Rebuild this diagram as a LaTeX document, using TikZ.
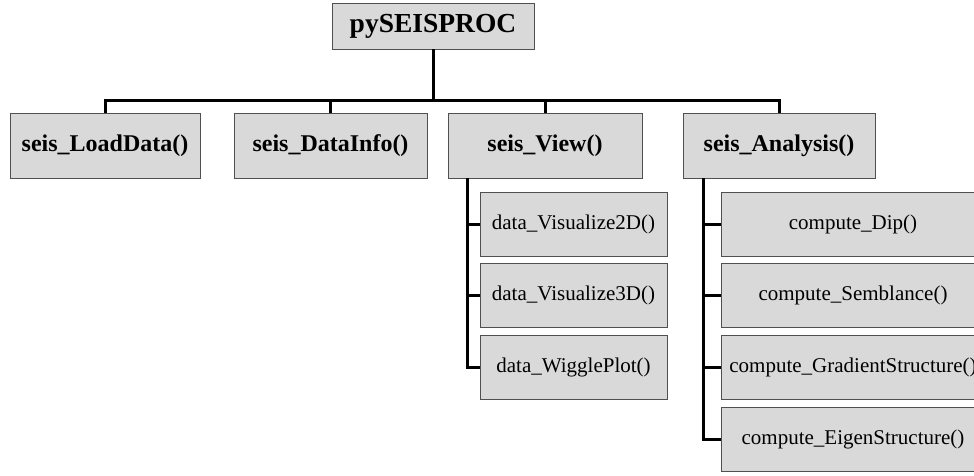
\documentclass[tikz,border=0pt]{standalone}
\usepackage{fontspec}
\setmainfont{Liberation Serif}
\definecolor{boxfill}{HTML}{D9D9D9}
\definecolor{boxline}{HTML}{505050}
\begin{document}
\begin{tikzpicture}[x=1pt,y=-1pt,
  box/.style={draw=boxline,line width=0.9pt,fill=boxfill,inner sep=0pt,anchor=center},
  topbox/.style={box,minimum height=65pt,font=\bfseries\fontsize{24}{28}\selectfont},
  subbox/.style={box,minimum height=64pt,font=\fontsize{21}{24}\selectfont},
  conn/.style={line width=3pt,black}]
\useasboundingbox (0,0) rectangle (974,475);
\clip (0,0) rectangle (974,475);
\node[box,minimum width=202pt,minimum height=46pt,font=\bfseries\fontsize{27.5}{30}\selectfont] (root) at (433,26) {pySEISPROC};
\node[topbox,minimum width=190pt] (ld) at (105,145.5) {seis\_LoadData()};
\node[topbox,minimum width=193pt] (di) at (330.5,145.5) {seis\_DataInfo()};
\node[topbox,minimum width=194pt] (vw) at (545,145.5) {seis\_View()};
\node[topbox,minimum width=192pt] (an) at (779,145.5) {seis\_Analysis()};
\node[subbox,minimum width=187pt] (v1) at (573.5,224) {data\_Visualize2D()};
\node[subbox,minimum width=187pt] (v2) at (573.5,295.5) {data\_Visualize3D()};
\node[subbox,minimum width=187pt] (v3) at (573.5,367) {data\_WigglePlot()};
\node[subbox,minimum width=264pt] (a1) at (853,224) {compute\_Dip()};
\node[subbox,minimum width=264pt] (a2) at (853,295.5) {compute\_Semblance()};
\node[subbox,minimum width=264pt] (a3) at (853,367.5) {compute\_GradientStructure()};
\node[subbox,minimum width=264pt] (a4) at (853,439.5) {compute\_EigenStructure()};
\coordinate (bus) at (0,100);
\coordinate (vx) at (467,0);
\coordinate (ax) at (703,0);
\draw[conn] (root.south) -- (root.south |- bus);
\draw[conn] (ld.north) -- (ld.north |- bus) -- (an.north |- bus) -- (an.north);
\draw[conn] (di.north) -- (di.north |- bus);
\draw[conn] (vw.north) -- (vw.north |- bus);
\draw[conn] (vx |- vw.south) -- (vx |- v3.west) -- (v3.west);
\draw[conn] (vx |- v1.west) -- (v1.west);
\draw[conn] (vx |- v2.west) -- (v2.west);
\draw[conn] (ax |- an.south) -- (ax |- a4.west) -- (a4.west);
\draw[conn] (ax |- a1.west) -- (a1.west);
\draw[conn] (ax |- a2.west) -- (a2.west);
\draw[conn] (ax |- a3.west) -- (a3.west);
\end{tikzpicture}
\end{document}
